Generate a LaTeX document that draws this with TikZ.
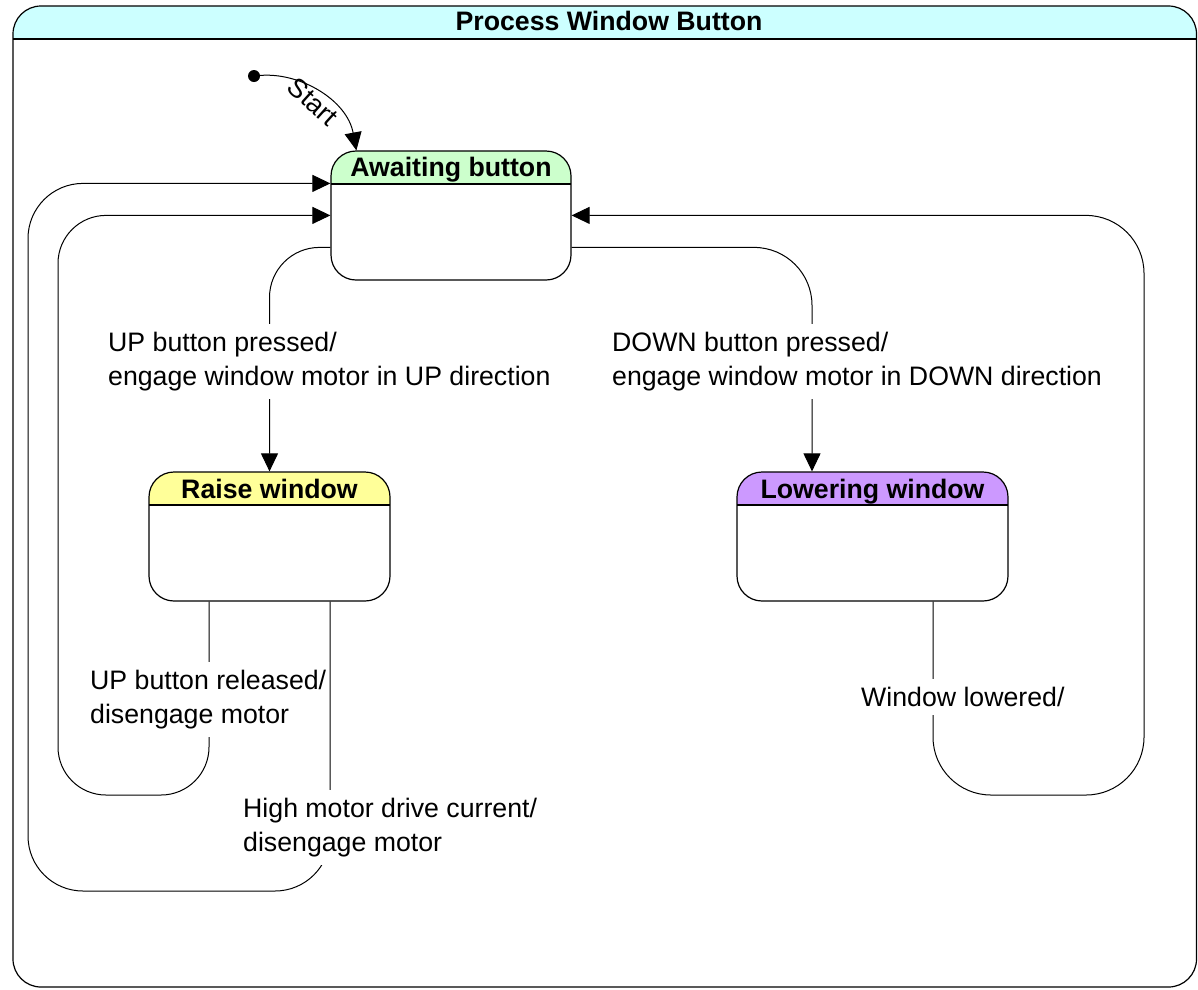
\documentclass[tikz,border=0pt]{standalone}
\usepackage{fontspec}
\setmainfont{Liberation Sans}
\usetikzlibrary{arrows.meta}
\definecolor{hdrcyan}{HTML}{CCFFFF}
\definecolor{hdrgreen}{HTML}{CCFFCC}
\definecolor{hdryellow}{HTML}{FFFF99}
\definecolor{hdrpurple}{HTML}{CC99FF}
\begin{document}
\begin{tikzpicture}[x=1pt,y=-1pt,
  txt/.style={font=\fontsize{26.7}{34}\selectfont},
  ttl/.style={font=\bfseries\fontsize{26.7}{34}\selectfont, inner sep=0pt, text height=19.5pt, text depth=5.5pt},
  statebox/.style={draw, line width=1.2pt, rounded corners=25pt, inner sep=0pt},
  hdr/.style={path picture={
     \fill[#1, sharp corners] ([xshift=-5pt,yshift=5pt]path picture bounding box.north west) rectangle ([xshift=5pt,yshift=-33pt]path picture bounding box.north east);
     \draw[line width=1.2pt, sharp corners] ([yshift=-33pt]path picture bounding box.north west) -- ([yshift=-33pt]path picture bounding box.north east);}},
  conn/.style={line width=1pt, -{Triangle[length=18pt,width=17pt]}},
  trans/.style={txt, fill=white, align=left, anchor=west, inner xsep=1pt, inner ysep=8pt},
]
\useasboundingbox (0,0) rectangle (1198,989);

% outer frame
\node[statebox, rounded corners=28pt, minimum width=1183.5pt, minimum height=981pt, hdr=hdrcyan] (frame) at (604.75,496.5) {};
\node[ttl] (frametitle) at (609,23) {Process Window Button};

% states
\node[statebox, minimum width=240pt, minimum height=129pt, hdr=hdrgreen] (aw) at (451,215.5) {};
\node[ttl] (awt) at (451,169) {Awaiting button};

\node[statebox, minimum width=241pt, minimum height=129pt, hdr=hdryellow] (raise) at (269.5,536.5) {};
\node[ttl] (raiset) at (269.5,491) {Raise window};

\node[statebox, minimum width=271pt, minimum height=129pt, hdr=hdrpurple] (low) at (872.5,536.5) {};
\node[ttl] (lowt) at (872.5,491) {Lowering window};

% initial
\node[circle, fill, inner sep=0pt, minimum size=12pt] (init) at (254,76) {};
\draw[conn] (init) .. controls (300,72) and (347,100) .. ([xshift=26pt]aw.north west);
\node[txt, rotate=-42, inner sep=0pt] (startlbl) at (313,102) {Start};

% transitions
\draw[conn, rounded corners=50pt] ([yshift=-97pt]aw.north west) -| (raise.north);
\draw[conn, rounded corners=58pt] ([yshift=-97pt]aw.north east) -| ([xshift=-60.5pt]low.north);
\draw[conn, rounded corners=58pt] ([xshift=60.5pt]low.south) |- (1144,795) |- ([yshift=-65pt]aw.north east);
\draw[conn, rounded corners=48pt] ([xshift=-60.5pt]raise.south) |- (58,795) |- ([yshift=-65pt]aw.north west);
\draw[conn, rounded corners=55pt] ([xshift=60.5pt]raise.south) |- (28,891) |- ([yshift=-33pt]aw.north west);

% labels
\node[trans] (l1) at (107,361.5) {UP button pressed/\\engage window motor in UP direction};
\node[trans] (l2) at (611,361.5) {DOWN button pressed/\\engage window motor in DOWN direction};
\node[trans] (l3) at (860,697) {Window lowered/};
\node[trans] (l4) at (89,699.5) {UP button released/\\disengage motor};
\node[trans] (l5) at (242,827.5) {High motor drive current/\\disengage motor};
\end{tikzpicture}
\end{document}
